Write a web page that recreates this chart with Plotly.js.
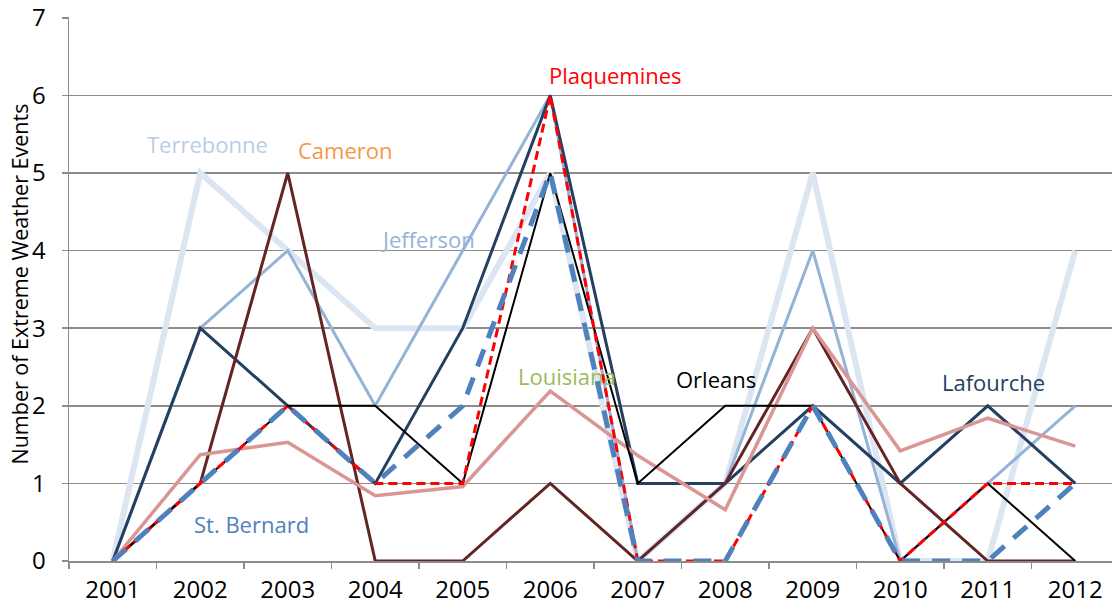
<!DOCTYPE html>
<html>
<head>
<meta charset="utf-8">
<script src="https://cdn.plot.ly/plotly-3.0.1.min.js"></script>
<style>html,body{margin:0;padding:0;background:#fff;}#chart{width:1112px;height:607px;}</style>
</head>
<body>
<div id="chart"></div>
<script>
const years = ['2001','2002','2003','2004','2005','2006','2007','2008','2009','2010','2011','2012'];
const terrebonne  = [0,5,4,3,3,5,0,1,5,0,0,4];
const jefferson   = [0,3,4,2,4,6,0,1,4,0,1,2];
const lafourche   = [0,3,2,1,3,6,1,1,2,1,2,1];
const cameron     = [0,1,5,0,0,1,0,1,3,1,0,0];
const louisiana   = [0,1.37,1.53,0.84,0.96,2.19,1.36,0.66,3.0,1.42,1.84,1.48];
const orleans     = [0,1,2,2,1,5,1,2,2,0,1,0];
const plaquemines = [0,1,2,1,1,6,0,0,2,0,1,1];
const stBernard   = [0,1,2,1,2,5,0,0,2,0,0,1];
const yTicks = [0,1,2,3,4,5,6,7];
const yTitle = 'Number of Extreme Weather Events';

const FONT = 'Open Sans, Lato, sans-serif';
function tr(name, y, color, width, dash) {
  return {type:'scatter', mode:'lines', name:name, x:years, y:y,
          line:{color:color, width:width, dash:dash||'solid'}, hoverinfo:'skip'};
}
const data = [
  tr('Terrebonne', terrebonne, '#dce6f2', 6),
  tr('Jefferson', jefferson, '#95b3d7', 3),
  tr('Lafourche', lafourche, '#243f60', 3),
  tr('Cameron', cameron, '#632523', 3),
  tr('Louisiana', louisiana, '#d99694', 3.5),
  tr('Orleans', orleans, '#000000', 2),
  tr('Plaquemines', plaquemines, '#ff0000', 3, '9px,5px'),
  tr('St. Bernard', stBernard, '#4f81bd', 5, '18px,12px')
];

function lab(text, x, y, color) {
  return {text:text, x:x, y:y, xref:'x', yref:'y', showarrow:false,
          xanchor:'center', yanchor:'middle', font:{family:FONT, size:22, color:color}};
}
const annotations = [
  lab('Terrebonne', 1.086, 5.37, '#b9cde5'),
  lab('Cameron', 2.66, 5.29, '#f79646'),
  lab('Jefferson', 3.6, 4.15, '#95b3d7'),
  lab('Plaquemines', 5.74, 6.26, '#ff0000'),
  lab('Louisiana', 5.19, 2.38, '#9bbb59'),
  lab('Orleans', 6.89, 2.35, '#000000'),
  lab('Lafourche', 10.07, 2.31, '#243f60'),
  lab('St. Bernard', 1.58, 0.48, '#4f81bd'),
  {text:yTitle, xref:'paper', yref:'paper', x:-0.047, y:0.51, textangle:-90,
   showarrow:false, xanchor:'center', yanchor:'middle',
   font:{family:FONT, size:21.5, color:'#000'}}
];

const layout = {
  width:1112, height:607,
  margin:{l:69, r:0, t:17, b:46, pad:0},
  paper_bgcolor:'#fff', plot_bgcolor:'#fff',
  showlegend:false,
  font:{family:FONT, color:'#000'},
  xaxis:{type:'category', range:[-0.5, 11.42], tickson:'boundaries',
         ticks:'outside', ticklen:6, tickwidth:1.5, tickcolor:'#8c8c8c',
         showgrid:false, showline:true, linecolor:'#8c8c8c', linewidth:1.5,
         tickfont:{family:FONT, size:24, color:'#000'}, ticklabelstandoff:7,
         fixedrange:true},
  yaxis:{range:[0,7.01], tickvals:yTicks, ticktext:yTicks.map(String),
         ticks:'outside', ticklen:6, tickwidth:1.5, tickcolor:'#8c8c8c',
         showgrid:true, gridcolor:'#8c8c8c', gridwidth:1.5, zeroline:false,
         showline:true, linecolor:'#8c8c8c', linewidth:1.5,
         tickfont:{family:FONT, size:24, color:'#000'}, ticklabelstandoff:11,
         fixedrange:true},
  annotations:annotations
};
Plotly.newPlot('chart', data, layout, {displayModeBar:false, staticPlot:true});
</script>
</body>
</html>
